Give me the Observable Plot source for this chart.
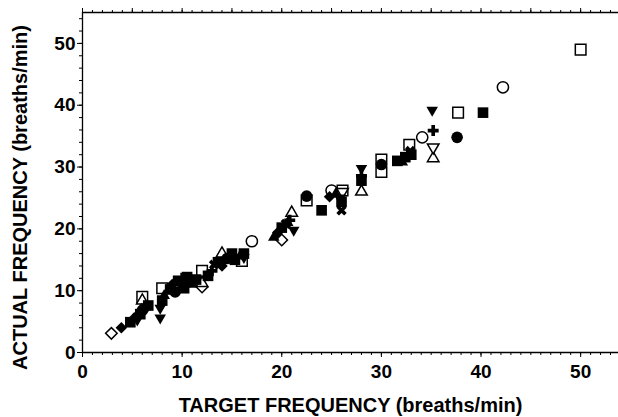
<!DOCTYPE html>
<html><head><meta charset="utf-8">
<script src="https://cdn.jsdelivr.net/npm/d3@7"></script>
<script src="https://cdn.jsdelivr.net/npm/@observablehq/plot@0.6"></script>
<style>body{margin:0;background:#fff}svg{display:block}</style>
</head><body><div id="chart"></div>
<script>
// Target (set) breathing frequency, breaths/min
const target = [2.9,3.9,4.8,5.2,5.5,5.8,6.0,6.2,6.0,6.0,6.6,5.6,7.8,7.8,8.0,8.0,8.2,8.8,9.0,9.3,9.6,10.0,10.0,10.2,10.5,10.6,11.0,11.4,12.0,12.0,12.0,12.6,13.0,13.2,13.6,14.0,14.0,14.5,15.0,15.3,16.0,16.2,15.8,17.0,16.2,
 19.2,20.0,19.6,20.0,20.4,20.8,21.2,21.0,20.6,22.5,22.5,24.0,25.0,24.8,25.4,26.1,26.1,26.0,26.0,25.8,
 28.0,28.0,28.0,28.0,30.0,30.0,30.0,31.6,32.1,32.4,32.8,32.9,33.0,34.1,35.1,35.2,35.2,35.2,37.7,37.6,40.2,42.2,50.0];
// Actual (measured) breathing frequency, breaths/min
const actual = [3.1,4.0,4.9,5.6,5.3,6.2,6.8,7.2,8.4,9.0,7.6,6.0,5.6,7.2,8.4,10.4,9.2,10.2,11.0,9.8,11.6,12.0,11.0,10.4,12.2,11.4,11.0,11.8,10.6,11.2,13.2,12.4,13.2,14.2,14.6,16.0,14.0,15.2,16.0,15.0,14.8,16.0,15.6,18.0,15.4,
 18.6,18.2,19.4,20.2,20.8,21.4,19.8,22.6,21.0,24.6,25.3,23.0,26.2,25.2,25.6,26.2,26.0,23.0,24.4,25.0,
 29.8,28.6,27.8,26.0,31.2,29.2,30.4,31.0,30.8,31.6,33.6,32.6,32.0,34.8,39.2,35.9,33.2,31.4,38.8,34.8,38.8,42.9,49.0];
// Subject marker for each point
const marker = ["diO","diF","sqF","diF","itF","sqF","ciF","xF","trO","sqO","sqF","plF","itF","itF","sqF","sqO","trF","sqF","diF","ciF","sqF","plF","xF","sqF","sqF","ciF","trF","sqF","diO","trO","sqO","sqF","plF","xF","sqF","trO","diF","ciF","sqF","sqF","sqO","sqF","trF","ciO","itF",
 "trF","diO","diF","sqF","xF","plF","itF","trO","trF","sqO","ciF","sqF","ciO","diF","trF","sqO","itO","xF","sqF","itF",
 "itF","plF","sqF","trO","sqO","sqO","ciF","sqF","trF","sqF","sqO","xF","sqF","ciO","itF","plF","itO","trO","sqO","ciF","sqF","ciO","sqO"];

const xTicks = [0,10,20,30,40,50];
const yTicks = [0,10,20,30,40,50];
const xTitle = "TARGET FREQUENCY (breaths/min)";
const yTitle = "ACTUAL FREQUENCY (breaths/min)";

const data = target.map((t,i)=>({target:t, actual:actual[i], marker:marker[i]}));

const styles = {
  sqO:{symbol:"square",r:6,open:true,rotate:0},
  sqF:{symbol:"square",r:6,open:false,rotate:0},
  ciO:{symbol:"circle",r:5.6,open:true,rotate:0},
  ciF:{symbol:"circle",r:5.8,open:false,rotate:0},
  diO:{symbol:"square",r:4.6,open:true,rotate:45},
  diF:{symbol:"square",r:4.6,open:false,rotate:45},
  trO:{symbol:"triangle",r:4.3,open:true,rotate:0},
  trF:{symbol:"triangle",r:4.3,open:false,rotate:0},
  itO:{symbol:"triangle",r:4.3,open:true,rotate:180},
  itF:{symbol:"triangle",r:4.3,open:false,rotate:180},
  plF:{symbol:"cross",r:4.6,open:false,rotate:0},
  xF:{symbol:"cross",r:4.6,open:false,rotate:45}
};
const order = ["sqO","ciO","diO","trO","itO","sqF","ciF","diF","trF","itF","plF","xF"];
const dotMarks = order.map(k=>{
  const s = styles[k];
  return Plot.dot(data.filter(d=>d.marker===k), {
    x:"target", y:"actual", symbol:s.symbol, r:s.r, rotate:s.rotate,
    fill: s.open ? "white" : "black",
    stroke: s.open ? "black" : "none",
    strokeWidth: 1.5
  });
});

const font = "'Liberation Sans', Arial, Helvetica, sans-serif";
const chart = Plot.plot({
  width:618, height:417,
  marginLeft:82, marginRight:0, marginTop:12, marginBottom:65,
  style:{fontFamily:font, background:"white", color:"black"},
  x:{domain:[0,53.8]},
  y:{domain:[0,55]},
  marks:[
    Plot.axisX(d3.range(0,54,1), {anchor:"bottom", tickSize:3, tickFormat:()=>"", label:null}),
    Plot.axisX(xTicks, {anchor:"bottom", tickSize:5, tickPadding:7, fontSize:19, fontWeight:"bold", label:null}),
    Plot.axisX(d3.range(0,54,1), {anchor:"top", tickSize:3, tickFormat:()=>"", label:null}),
    Plot.axisX(d3.range(0,54,5), {anchor:"top", tickSize:5, tickFormat:()=>"", label:null}),
    Plot.axisY(d3.range(0,55,2), {anchor:"left", tickSize:3, tickFormat:()=>"", label:null}),
    Plot.axisY(yTicks, {anchor:"left", tickSize:5, tickPadding:2, fontSize:19, fontWeight:"bold", label:null}),
    Plot.ruleX([0], {strokeWidth:1.3}),
    Plot.ruleY([0], {strokeWidth:1.3}),
    Plot.ruleY([55], {strokeWidth:1.3}),
    ...dotMarks,
    Plot.text([xTitle], {frameAnchor:"bottom", lineAnchor:"middle", textAnchor:"middle", dy:53, fontSize:20, fontWeight:"bold"}),
    Plot.text([yTitle], {frameAnchor:"left", lineAnchor:"middle", textAnchor:"middle", rotate:-90, dx:-62, dy:15, fontSize:20, fontWeight:"bold"})
  ]
});
document.getElementById("chart").appendChild(chart);
</script>
</body></html>
